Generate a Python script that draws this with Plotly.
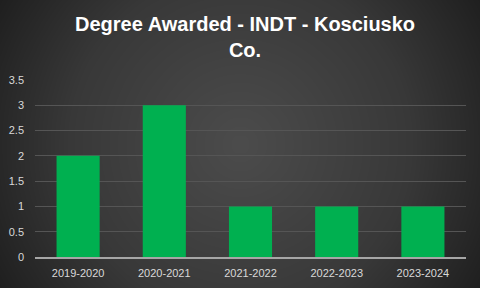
import numpy as np
import plotly.graph_objects as go

categories = ["2019-2020", "2020-2021", "2021-2022", "2022-2023", "2023-2024"]
values = [2, 3, 1, 1, 1]
y_ticks = [0, 0.5, 1, 1.5, 2, 2.5, 3, 3.5]
y_tick_labels = ["0", "0.5", "1", "1.5", "2", "2.5", "3", "3.5"]
title_text = "Degree Awarded - INDT - Kosciusko<br>Co."

W, H = 480, 288

# radial gradient background (styling only)
gx = np.linspace(0, 1, 60)
gy = np.linspace(0, 1, 40)
X, Y = np.meshgrid(gx, gy)
R = np.sqrt(((X - 0.5) * 1.0) ** 2 + ((Y - 0.5) * 0.6) ** 2) / np.sqrt(0.25 + 0.09)

fig = go.Figure()
fig.add_trace(go.Heatmap(
    x=gx, y=gy, z=R, zsmooth="best", showscale=False, hoverinfo="skip",
    colorscale=[[0, "#4b4b4b"], [0.6, "#383838"], [1, "#1f1f1f"]],
    xaxis="x", yaxis="y",
))
fig.add_trace(go.Bar(
    x=categories, y=values, marker=dict(color="#00B050", line=dict(width=0)),
    xaxis="x2", yaxis="y2", width=0.5,
))

fig.add_annotation(
    text=title_text, xref="paper", yref="paper", x=245 / W, y=1 - 11 / H,
    xanchor="center", yanchor="top", showarrow=False, align="center",
    font=dict(family="Liberation Sans, Arial, sans-serif", size=20, color="#ffffff", weight="bold"),
)

fig.update_layout(
    width=W, height=H,
    margin=dict(l=0, r=0, t=0, b=0, pad=0),
    paper_bgcolor="#2a2a2a",
    plot_bgcolor="rgba(0,0,0,0)",
    showlegend=False,
    font=dict(family="Liberation Sans, Arial, sans-serif", color="#d9d9d9", size=11),
    xaxis=dict(domain=[0, 1], range=[0, 1], visible=False, fixedrange=True, automargin=False),
    yaxis=dict(domain=[0, 1], range=[0, 1], visible=False, fixedrange=True, automargin=False),
    xaxis2=dict(domain=[35 / W, 466 / W], anchor="y2", showgrid=False, automargin=False,
                showline=True, linecolor="#a6a6a6", linewidth=1.5, ticks="",
                tickfont=dict(size=11, color="#d9d9d9"), ticklabelstandoff=5),
    yaxis2=dict(domain=[1 - 257 / H, 1 - 80 / H], anchor="x2", range=[0, 3.5], automargin=False,
                tickvals=y_ticks, ticktext=y_tick_labels, showgrid=True,
                gridcolor="#555555", gridwidth=1, zeroline=False, showline=False,
                tickfont=dict(size=11, color="#d9d9d9"), ticklabelstandoff=10),
)

fig.write_html("out.html")
